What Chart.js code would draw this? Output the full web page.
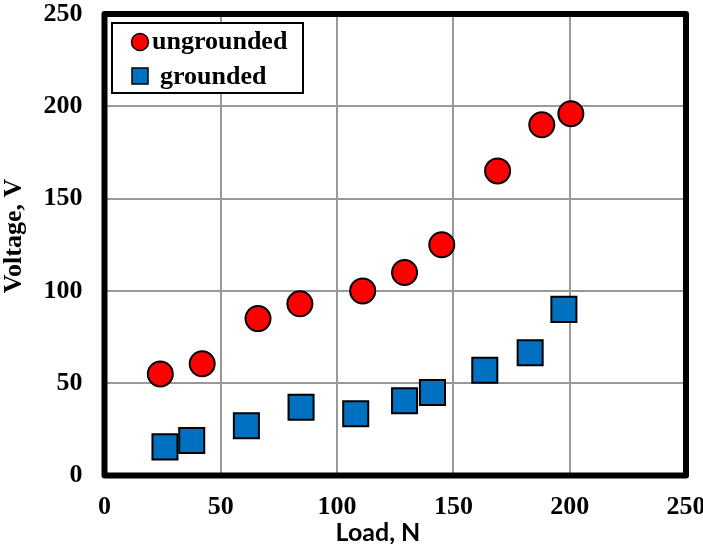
<!DOCTYPE html>
<html>
<head>
<meta charset="utf-8">
<script src="https://cdn.jsdelivr.net/npm/chart.js@4/dist/chart.umd.min.js"></script>
<style>
  html, body { margin: 0; padding: 0; background: #fff; overflow: hidden; }
  #c { display: block; }
</style>
</head>
<body>
<canvas id="c" width="703" height="544"></canvas>
<script>
// ---- data ----
const seriesNames = ["ungrounded", "grounded"];
const ungroundedLoad = [24, 42, 66, 84, 111, 129, 145, 169, 188, 200.5];
const ungroundedVoltage = [55, 60.5, 85, 93, 100, 110, 125, 165, 190, 196];
const groundedLoad = [26, 37.5, 61, 84.5, 108, 129, 141, 163.5, 183, 197.5];
const groundedVoltage = [15.5, 19, 27, 37, 33.5, 40.5, 45, 57, 66.5, 90];
const xTicks = [0, 50, 100, 150, 200, 250];
const yTicks = [0, 50, 100, 150, 200, 250];
const xTitle = "Load, N";
const yTitle = "Voltage, V";

const toPoints = (xs, ys) => xs.map((x, i) => ({ x: x, y: ys[i] }));
const serif = "'Liberation Serif', 'Times New Roman', serif";

const framePlugin = {
  id: 'frame',
  beforeDatasetsDraw(chart) {
    const { ctx, chartArea: a } = chart;
    ctx.save();
    ctx.strokeStyle = '#000';
    ctx.lineWidth = 6;
    ctx.lineJoin = 'round';
    ctx.strokeRect(a.left, a.top, a.right - a.left, a.bottom - a.top);
    ctx.restore();
  }
};

const titlesPlugin = {
  id: 'axisTitles',
  afterDraw(chart) {
    const { ctx } = chart;
    ctx.save();
    ctx.fillStyle = '#000';
    ctx.font = "bold 26px " + serif;
    ctx.textAlign = 'center';
    ctx.textBaseline = 'middle';
    ctx.translate(14, 236);
    ctx.rotate(-Math.PI / 2);
    ctx.fillText(yTitle, 0, 0);
    ctx.restore();
    ctx.save();
    ctx.fillStyle = '#000';
    ctx.font = "bold 25px Lato, 'Open Sans', sans-serif";
    ctx.textAlign = 'center';
    ctx.textBaseline = 'middle';
    ctx.fillText(xTitle, 378, 533);
    ctx.restore();
  }
};

const legendPlugin = {
  id: 'boxLegend',
  afterDraw(chart) {
    const { ctx } = chart;
    const ds = chart.data.datasets;
    ctx.save();
    ctx.fillStyle = '#fff';
    ctx.fillRect(112, 23, 191, 70);
    ctx.strokeStyle = '#000';
    ctx.lineWidth = 2;
    ctx.strokeRect(112, 23, 191, 70);
    ctx.beginPath();
    ctx.arc(140, 42, 8.5, 0, Math.PI * 2);
    ctx.fillStyle = ds[0].backgroundColor;
    ctx.fill();
    ctx.lineWidth = 1.5;
    ctx.strokeStyle = '#000';
    ctx.stroke();
    ctx.fillStyle = ds[1].backgroundColor;
    ctx.fillRect(132, 68, 16, 16);
    ctx.strokeRect(132, 68, 16, 16);
    ctx.fillStyle = '#000';
    ctx.font = "bold 26px " + serif;
    ctx.textAlign = 'left';
    ctx.textBaseline = 'alphabetic';
    ctx.fillText(ds[0].label, 152, 49);
    ctx.fillText(ds[1].label, 160, 84);
    ctx.restore();
  }
};

new Chart(document.getElementById('c'), {
  type: 'scatter',
  data: {
    datasets: [
      {
        label: seriesNames[0],
        data: toPoints(ungroundedLoad, ungroundedVoltage),
        pointStyle: 'circle',
        pointRadius: 12.5,
        pointHoverRadius: 12.5,
        backgroundColor: '#FF0000',
        borderColor: '#000000',
        borderWidth: 2
      },
      {
        label: seriesNames[1],
        data: toPoints(groundedLoad, groundedVoltage),
        pointStyle: 'rect',
        pointRadius: 17.7,
        pointHoverRadius: 17.7,
        backgroundColor: '#0070C0',
        borderColor: '#000000',
        borderWidth: 2
      }
    ]
  },
  options: {
    responsive: false,
    animation: false,
    events: [],
    layout: { autoPadding: false, padding: { top: 14, right: 17, left: 0, bottom: 0 } },
    plugins: {
      legend: { display: false },
      tooltip: { enabled: false }
    },
    scales: {
      x: {
        type: 'linear',
        min: 0, max: 250,
        afterBuildTicks: s => { s.ticks = xTicks.map(v => ({ value: v })); },
        afterFit: s => { s.height = 68.5; s.paddingLeft = 0; s.paddingRight = 0; },
        grid: { color: '#999999', lineWidth: 2, drawTicks: false },
        border: { display: false },
        ticks: {
          padding: 16,
          color: '#000',
          maxRotation: 0,
          autoSkip: false,
          font: { family: serif, size: 26, weight: 'bold' }
        }
      },
      y: {
        type: 'linear',
        min: 0, max: 250,
        afterBuildTicks: s => { s.ticks = yTicks.map(v => ({ value: v })); },
        afterFit: s => { s.width = 104.5; s.paddingTop = 0; s.paddingBottom = 0; },
        grid: { color: '#999999', lineWidth: 2, drawTicks: false },
        border: { display: false },
        ticks: {
          padding: 22,
          color: '#000',
          autoSkip: false,
          font: { family: serif, size: 26, weight: 'bold' }
        }
      }
    }
  },
  plugins: [framePlugin, titlesPlugin, legendPlugin]
});
</script>
</body>
</html>
